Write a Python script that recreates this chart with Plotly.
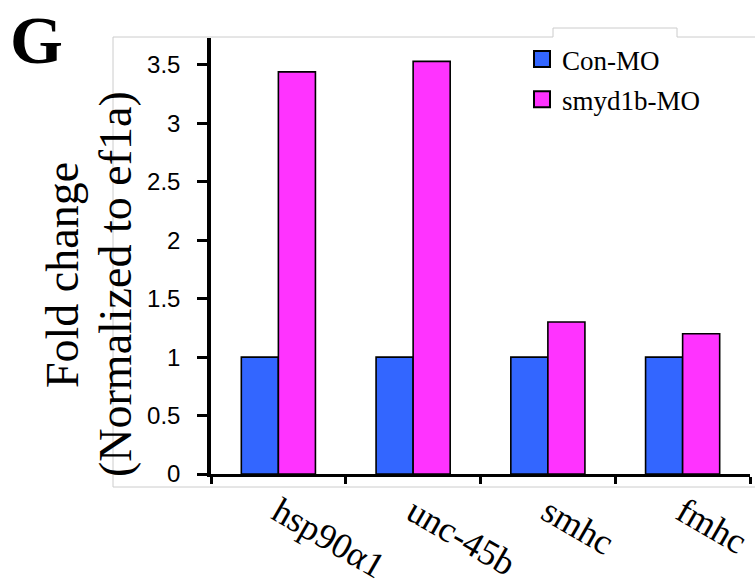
import plotly.graph_objects as go

categories = ["hsp90\u03b11", "unc-45b", "smhc", "fmhc"]
con_mo = [1.0, 1.0, 1.0, 1.0]
smyd1b_mo = [3.44, 3.53, 1.30, 1.20]
series_names = ["Con-MO", "smyd1b-MO"]
y_ticks = [0, 0.5, 1, 1.5, 2, 2.5, 3, 3.5]
y_tick_labels = ["0", "0.5", "1", "1.5", "2", "2.5", "3", "3.5"]
y_title_lines = ["Fold change", "(Normalized to ef1a)"]

W, H = 755, 586
L, R, T, B = 211, 5, 38, 112
PW, PH = W - L - R, H - T - B

def px(X):
    return (X - L) / PW

def py(Y):
    return (H - B - Y) / PH

BLUE = "#3366FF"
MAGENTA = "#FF33FF"
SERIF = "Liberation Serif, Times New Roman, serif"
SANS = "Liberation Sans, Arial, sans-serif"

fig = go.Figure()
fig.add_trace(go.Bar(x=categories, y=con_mo, name=series_names[0], showlegend=False,
                     marker=dict(color=BLUE, line=dict(color="black", width=1.6))))
fig.add_trace(go.Bar(x=categories, y=smyd1b_mo, name=series_names[1], showlegend=False,
                     marker=dict(color=MAGENTA, line=dict(color="black", width=1.6))))
# legend entries
for nm, col in zip(series_names, [BLUE, MAGENTA]):
    fig.add_trace(go.Scatter(x=[None], y=[None], mode="markers", name=nm, legendgroup=nm,
                             marker=dict(symbol="square", size=16, color=col,
                                         line=dict(color="black", width=2))))

fig.update_layout(
    width=W, height=H,
    margin=dict(l=L, r=R, t=T, b=B, pad=0, autoexpand=False),
    paper_bgcolor="white", plot_bgcolor="white",
    barmode="group", bargap=0.45, bargroupgap=0,
    showlegend=True,
    legend=dict(x=px(522), y=py(35), xanchor="left", yanchor="top",
                font=dict(family=SERIF, size=27, color="black"),
                bgcolor="rgba(0,0,0,0)", tracegroupgap=2, traceorder="grouped",
                itemsizing="trace"),
    xaxis=dict(type="category", range=[-0.5, 3.5], showline=True, linecolor="black", linewidth=3,
               ticks="outside", tickson="boundaries", ticklen=7, tickwidth=3, tickcolor="black",
               showgrid=False, zeroline=False, tickangle=30, automargin=False,
               tickfont=dict(family=SERIF, size=36, color="black")),
    yaxis=dict(range=[0, 3.73], showline=True, linecolor="black", linewidth=3.5,
               ticks="outside", ticklen=10, tickwidth=3, tickcolor="black", automargin=False,
               tickvals=y_ticks, ticktext=y_tick_labels, showgrid=False, zeroline=False,
               tickfont=dict(family=SANS, size=24, color="black"), ticklabelstandoff=12),
)

# light gray frame from the original figure
fig.add_shape(type="path", xref="paper", yref="paper", layer="below",
              path=(f"M {px(755)},{py(37)} L {px(677)},{py(37)} L {px(677)},{py(28)} "
                    f"L {px(553)},{py(28)} L {px(553)},{py(37)} L {px(113)},{py(37)} "
                    f"L {px(113)},{py(487)} L {px(755)},{py(487)}"),
              line=dict(color="#CCCCCC", width=1))

fig.add_annotation(text="<b>G</b>", xref="paper", yref="paper", x=px(36), y=py(0),
                   xanchor="center", yanchor="top", showarrow=False,
                   font=dict(family=SERIF, size=68, color="black"))
fig.add_annotation(text=y_title_lines[0], xref="paper", yref="paper",
                   x=px(62), y=py(275), xanchor="center", yanchor="middle", showarrow=False,
                   textangle=-90, font=dict(family=SERIF, size=46, color="black"))
fig.add_annotation(text=y_title_lines[1], xref="paper", yref="paper",
                   x=px(115), y=py(284), xanchor="center", yanchor="middle", showarrow=False,
                   textangle=-90, font=dict(family=SERIF, size=46, color="black"))

fig.write_html("out.html", config={"displayModeBar": False},
               post_script="document.body.style.margin='0';")
